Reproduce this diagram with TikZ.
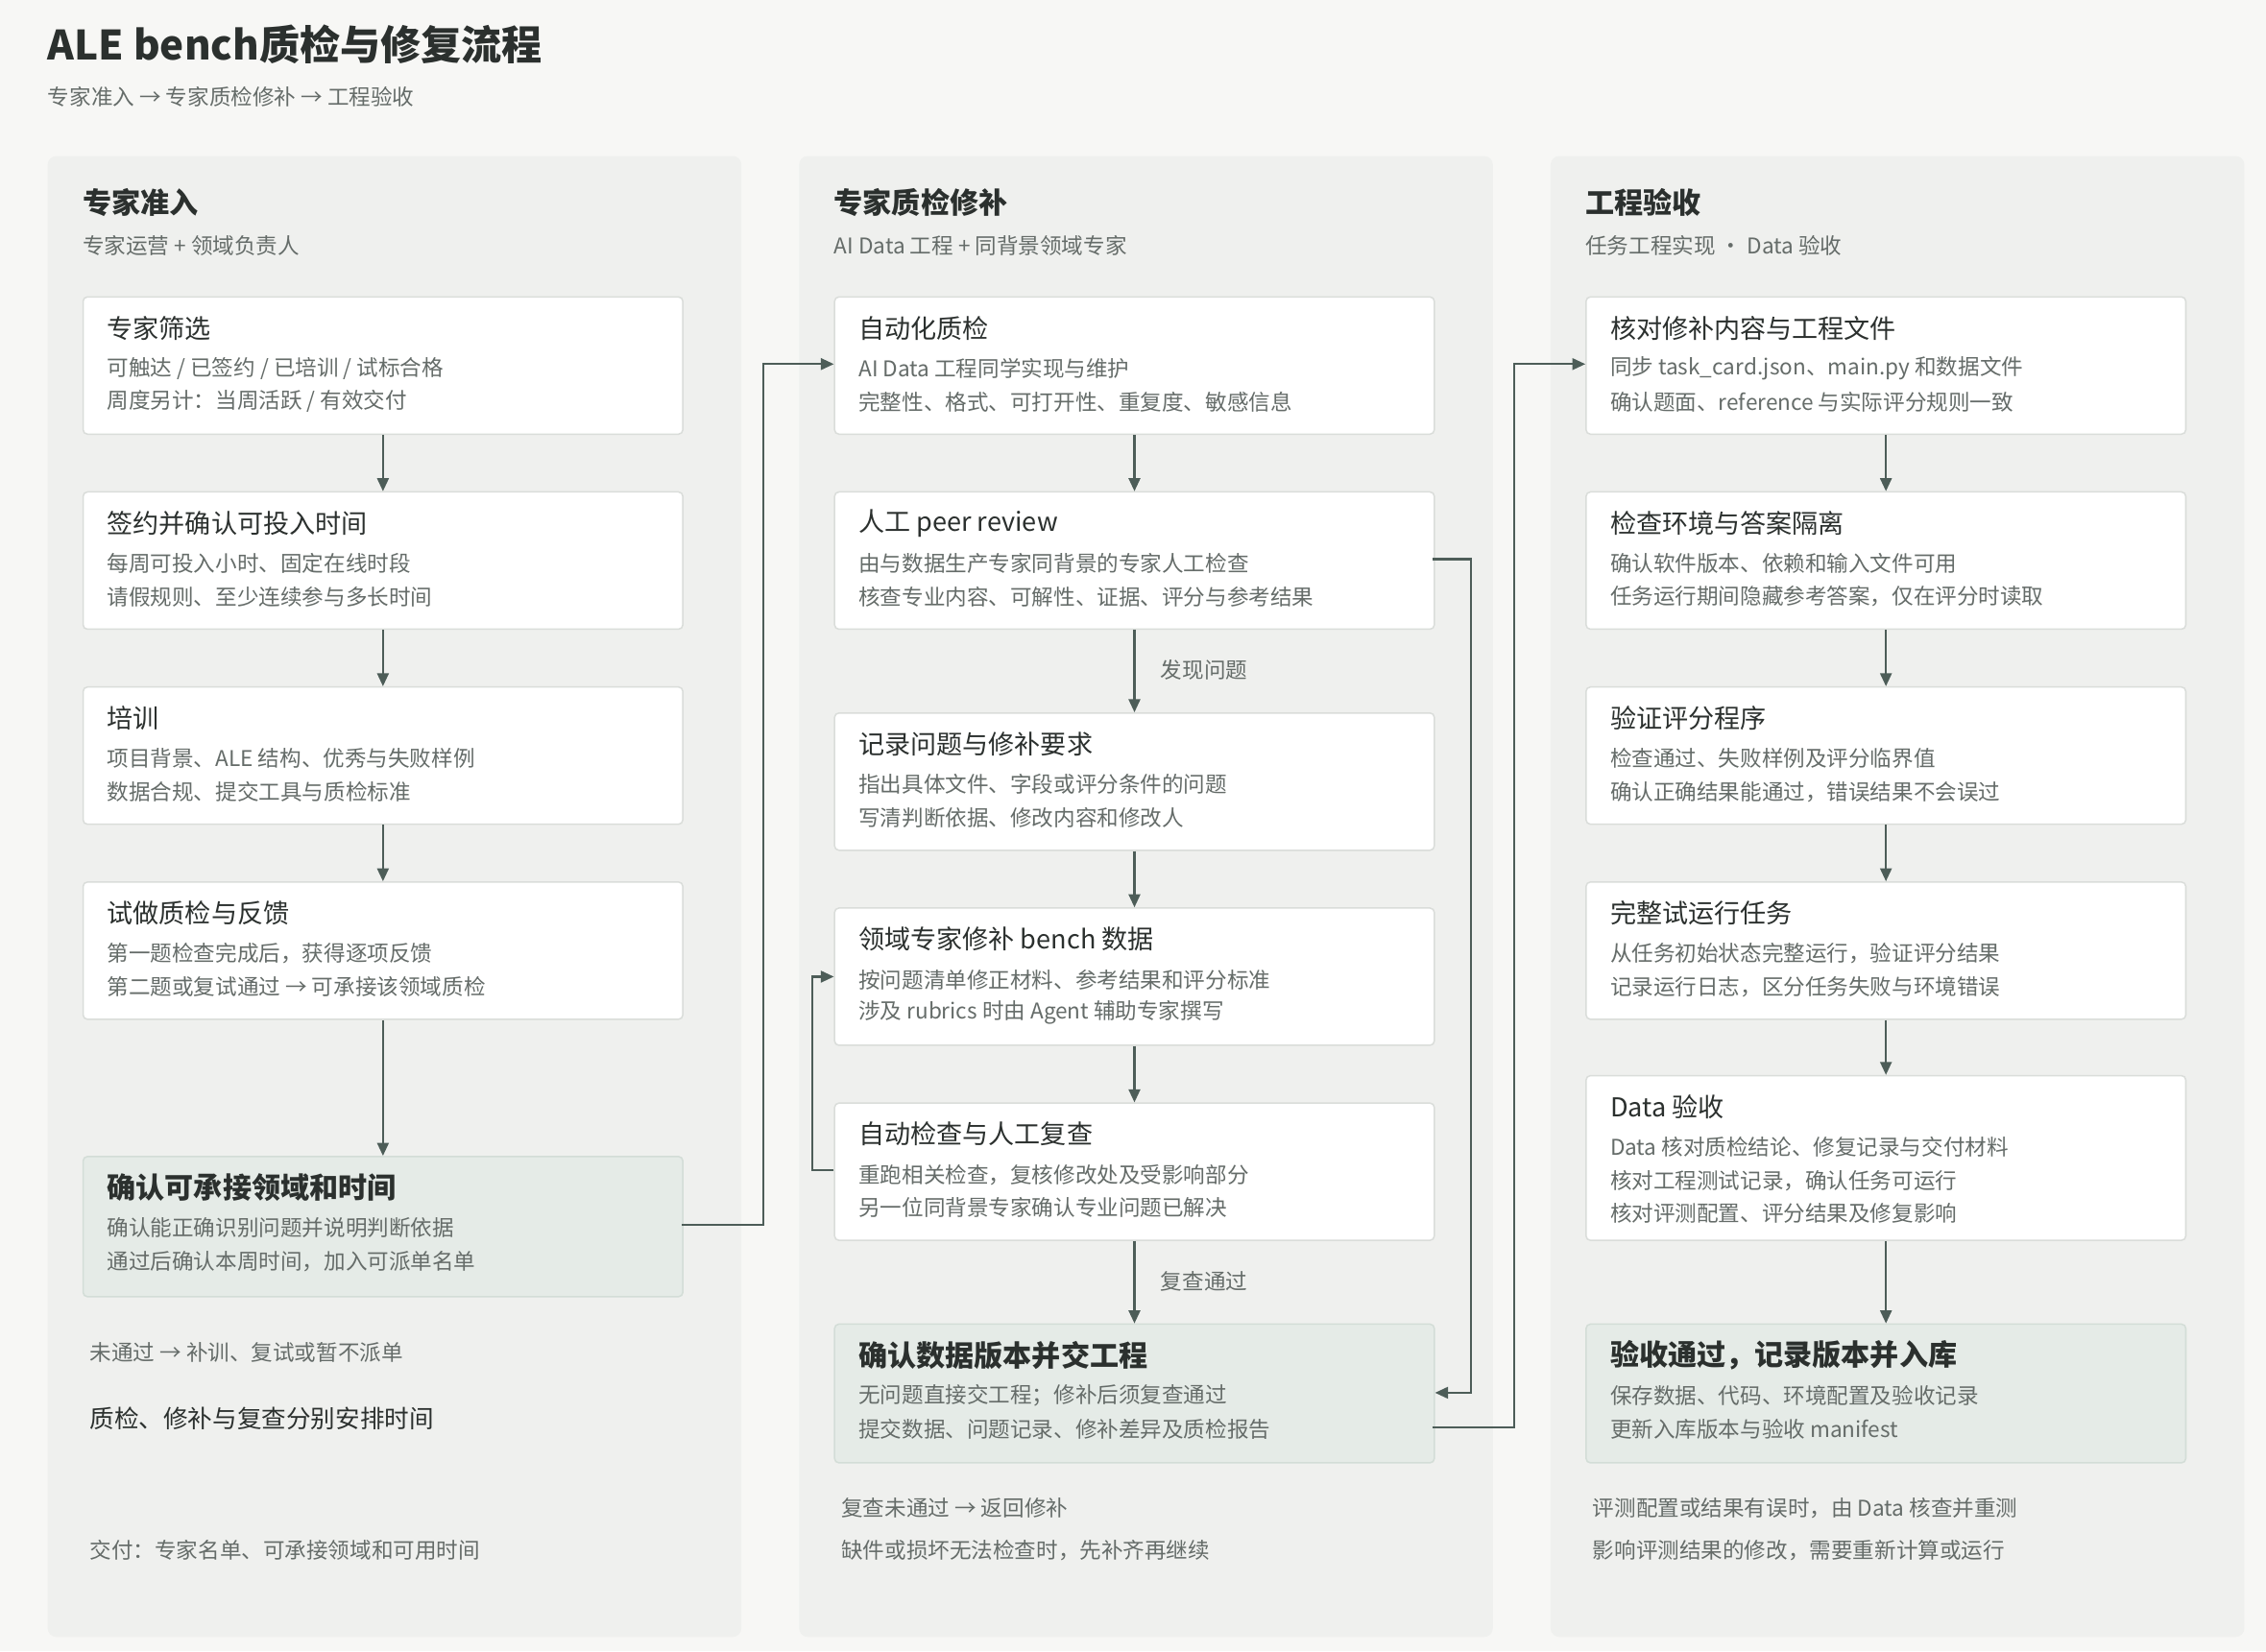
\documentclass[tikz,border=0pt]{standalone}
\usepackage{fontspec}
\setmainfont{Noto Sans CJK SC}
\usetikzlibrary{arrows.meta}
\definecolor{bg}{HTML}{F7F7F5}
\definecolor{panel}{HTML}{EFF0EE}
\definecolor{bd}{HTML}{DADDDA}
\definecolor{tx}{HTML}{2B302E}
\definecolor{gr}{HTML}{656C69}
\definecolor{ar}{HTML}{4D5D58}
\definecolor{fin}{HTML}{E5EBE7}
\definecolor{finbd}{HTML}{D3DDD7}
\tikzset{
 box/.style={draw=bd,fill=white,rounded corners=3pt,line width=1pt,anchor=north west,minimum width=415pt,inner sep=0pt},
 finbox/.style={box,fill=fin,draw=finbd},
 bt/.style={anchor=west,text=tx,font=\fontsize{18}{20}\selectfont,inner sep=0pt},
 fbt/.style={anchor=west,text=tx,font=\fontsize{20}{22}\selectfont\bfseries,inner sep=0pt},
 ln/.style={anchor=west,text=gr,font=\fontsize{15}{17}\selectfont,inner sep=0pt},
 arr/.style={draw=ar,line width=1.4pt,-{Triangle[length=9pt,width=8pt]}},
 lab/.style={text=gr,font=\fontsize{15}{17}\selectfont,inner sep=0pt,anchor=west},
}
\newcommand\mybox[8]{%
 \node[#8,minimum height=#4pt] (#1) at (#2,#3) {};
 \node[bt] at (#2+17,#3+22) {#5};
 \node[ln] at (#2+17,#3+50) {#6};
 \node[ln] at (#2+17,#3+73) {#7};}
\newcommand\myfin[7]{%
 \node[finbox,minimum height=#4pt] (#1) at (#2,#3) {};
 \node[fbt] at (#2+17,#3+22) {#5};
 \node[ln] at (#2+17,#3+50) {#6};
 \node[ln] at (#2+17,#3+73) {#7};}
\begin{document}
\begin{tikzpicture}[x=1pt,y=-1pt]
\fill[bg] (0,0) rectangle (1568,1143);
\useasboundingbox (0,0) rectangle (1568,1143);
\node[anchor=west,text=tx,font=\fontsize{28}{30}\selectfont\bfseries,inner sep=0pt] (title) at (33,31) {ALE bench质检与修复流程};
\node[lab] (sub) at (33,67) {专家准入 → 专家质检修补 → 工程验收};
% panels
\foreach \x/\n in {33/p1,553/p2,1073/p3}{
 \fill[panel,rounded corners=6pt] (\x,108) rectangle (\x+480,1133);}
\node[anchor=west,text=tx,font=\fontsize{20}{22}\selectfont\bfseries,inner sep=0pt] (h1) at (57,140) {专家准入};
\node[lab] (s1) at (57,170) {专家运营 + 领域负责人};
\node[anchor=west,text=tx,font=\fontsize{20}{22}\selectfont\bfseries,inner sep=0pt] (h2) at (577,140) {专家质检修补};
\node[lab] (s2) at (577,170) {AI Data 工程 + 同背景领域专家};
\node[anchor=west,text=tx,font=\fontsize{20}{22}\selectfont\bfseries,inner sep=0pt] (h3) at (1097,140) {工程验收};
\node[lab] (s3) at (1097,170) {任务工程实现 · Data 验收};
% column 1
\mybox{a1}{57}{205}{95}{专家筛选}{可触达 / 已签约 / 已培训 / 试标合格}{周度另计：当周活跃 / 有效交付}{box}
\mybox{a2}{57}{340}{95}{签约并确认可投入时间}{每周可投入小时、固定在线时段}{请假规则、至少连续参与多长时间}{box}
\mybox{a3}{57}{475}{95}{培训}{项目背景、ALE 结构、优秀与失败样例}{数据合规、提交工具与质检标准}{box}
\mybox{a4}{57}{610}{95}{试做质检与反馈}{第一题检查完成后，获得逐项反馈}{第二题或复试通过 → 可承接该领域质检}{box}
\myfin{a5}{57}{800}{97}{确认可承接领域和时间}{确认能正确识别问题并说明判断依据}{通过后确认本周时间，加入可派单名单}
\node[lab] (n1) at (62,936) {未通过 → 补训、复试或暂不派单};
\node[anchor=west,text=tx,font=\fontsize{17}{19}\selectfont,inner sep=0pt] (n2) at (62,982) {质检、修补与复查分别安排时间};
\node[lab] (n3) at (62,1073) {交付：专家名单、可承接领域和可用时间};
% column 2
\mybox{b1}{577}{205}{95}{自动化质检}{AI Data 工程同学实现与维护}{完整性、格式、可打开性、重复度、敏感信息}{box}
\mybox{b2}{577}{340}{95}{人工 peer review}{由与数据生产专家同背景的专家人工检查}{核查专业内容、可解性、证据、评分与参考结果}{box}
\mybox{b3}{577}{493}{95}{记录问题与修补要求}{指出具体文件、字段或评分条件的问题}{写清判断依据、修改内容和修改人}{box}
\mybox{b4}{577}{628}{95}{领域专家修补 bench 数据}{按问题清单修正材料、参考结果和评分标准}{涉及 rubrics 时由 Agent 辅助专家撰写}{box}
\mybox{b5}{577}{763}{95}{自动检查与人工复查}{重跑相关检查，复核修改处及受影响部分}{另一位同背景专家确认专业问题已解决}{box}
\myfin{b6}{577}{916}{96}{确认数据版本并交工程}{无问题直接交工程；修补后须复查通过}{提交数据、问题记录、修补差异及质检报告}
\node[lab] (m1) at (582,1044) {复查未通过 → 返回修补};
\node[lab] (m2) at (582,1073) {缺件或损坏无法检查时，先补齐再继续};
% column 3
\mybox{c1}{1097}{205}{95}{核对修补内容与工程文件}{同步 task\_card.json、main.py 和数据文件}{确认题面、reference 与实际评分规则一致}{box}
\mybox{c2}{1097}{340}{95}{检查环境与答案隔离}{确认软件版本、依赖和输入文件可用}{任务运行期间隐藏参考答案，仅在评分时读取}{box}
\mybox{c3}{1097}{475}{95}{验证评分程序}{检查通过、失败样例及评分临界值}{确认正确结果能通过，错误结果不会误过}{box}
\mybox{c4}{1097}{610}{95}{完整试运行任务}{从任务初始状态完整运行，验证评分结果}{记录运行日志，区分任务失败与环境错误}{box}
\mybox{c5}{1097}{744}{114}{Data 验收}{Data 核对质检结论、修复记录与交付材料}{核对工程测试记录，确认任务可运行}{box}
\node[ln] (c5l3) at (1114,840) {核对评测配置、评分结果及修复影响};
\myfin{c6}{1097}{916}{96}{验收通过，记录版本并入库}{保存数据、代码、环境配置及验收记录}{更新入库版本与验收 manifest}
\node[lab] (k1) at (1102,1044) {评测配置或结果有误时，由 Data 核查并重测};
\node[lab] (k2) at (1102,1073) {影响评测结果的修改，需要重新计算或运行};
% vertical arrows
\foreach \u/\v in {a1/a2,a2/a3,a3/a4,a4/a5,b1/b2,b2/b3,b3/b4,b4/b5,b5/b6,c1/c2,c2/c3,c3/c4,c4/c5,c5/c6}
 \draw[arr] (\u.south) -- (\v.north);
\node[lab] (l1) at (803,464) {发现问题};
\node[lab] (l2) at (803,887) {复查通过};
% cross arrows
\draw[arr] (472,848) -- (528,848) -- (528,252) -- (b1.west |- 0,252);
\draw[arr] (991,387) -- (1018,387) -- (1018,964) -- (b6.east |- 0,964);
\draw[arr] (991,988) -- (1048,988) -- (1048,252) -- (c1.west |- 0,252);
\draw[arr] (577,810) -- (562,810) -- (562,676) -- (b4.west |- 0,676);
\end{tikzpicture}
\end{document}
